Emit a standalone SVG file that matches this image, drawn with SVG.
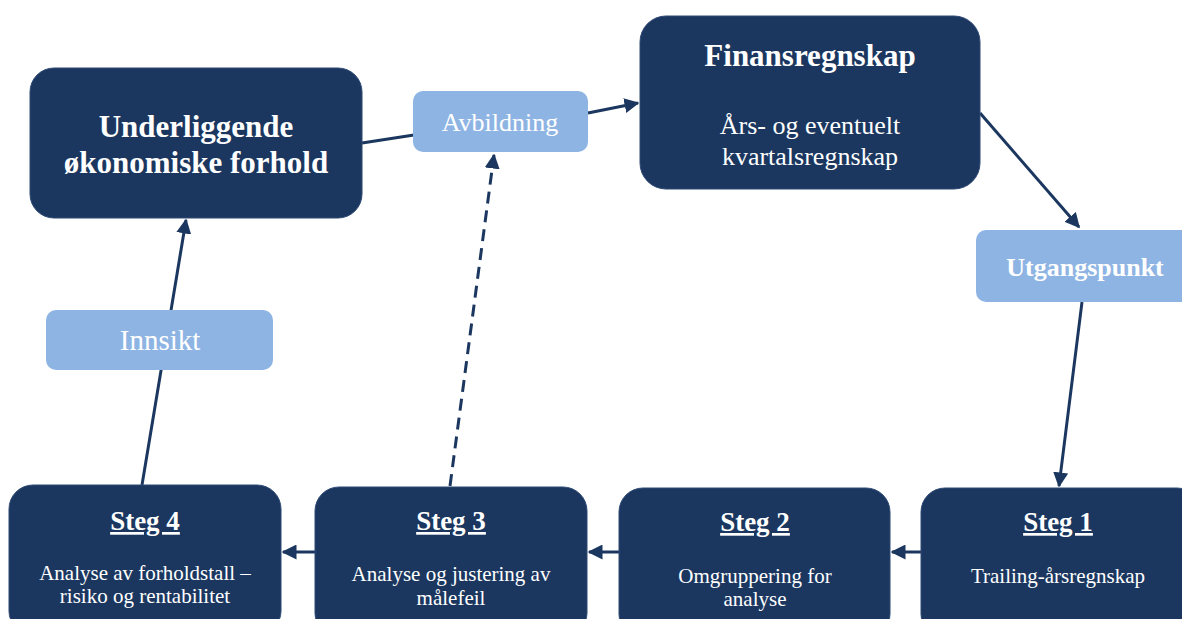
<svg xmlns="http://www.w3.org/2000/svg" width="1182" height="619" viewBox="0 0 1182 619">
  <style>
    .dark { fill: #1B375F; stroke: #2E4A75; stroke-width: 1; }
    .light { fill: #8EB4E3; }
    text { font-family: "Liberation Serif", "Times New Roman", serif; fill: #FFFFFF; text-anchor: middle; }
    .big { font-size: 31px; font-weight: bold; }
    .mid { font-size: 26px; }
    .head { font-size: 27px; font-weight: bold; text-decoration: underline; }
    .small { font-size: 21px; }
    .conn { stroke: #1B375F; stroke-width: 3; fill: none; }
    .dash { stroke-dasharray: 12 7; }
  </style>
  <defs>
    <marker id="arrow" viewBox="0 0 10 10" refX="9" refY="5" markerWidth="5" markerHeight="5" markerUnits="strokeWidth" orient="auto">
      <path d="M0,0 L10,5 L0,10 z" fill="#1B375F"/>
    </marker>
  </defs>

  <!-- connectors -->
  <g id="connectors">
    <line class="conn" x1="362" y1="143" x2="414" y2="135"/>
    <line class="conn" x1="588" y1="113" x2="638" y2="103" marker-end="url(#arrow)"/>
    <line class="conn" x1="980" y1="113" x2="1079" y2="227" marker-end="url(#arrow)"/>
    <line class="conn" x1="1082" y1="302" x2="1059" y2="486" marker-end="url(#arrow)"/>
    <line class="conn" x1="921" y1="552" x2="892" y2="552" marker-end="url(#arrow)"/>
    <line class="conn" x1="619" y1="552" x2="589" y2="552" marker-end="url(#arrow)"/>
    <line class="conn" x1="315" y1="552" x2="283" y2="552" marker-end="url(#arrow)"/>
    <line class="conn" x1="142" y1="485" x2="186" y2="220" marker-end="url(#arrow)"/>
    <line class="conn dash" x1="450" y1="486" x2="494" y2="155" marker-end="url(#arrow)"/>
  </g>

  <g id="underliggende">
    <rect class="dark" x="30" y="68" width="332" height="150" rx="24"/>
    <text class="big" x="196" y="137">Underliggende</text>
    <text class="big" x="196" y="173">økonomiske forhold</text>
  </g>

  <g id="avbildning">
    <rect class="light" x="413" y="91" width="175" height="61" rx="10"/>
    <text class="mid" x="500" y="131">Avbildning</text>
  </g>

  <g id="finansregnskap">
    <rect class="dark" x="640" y="16" width="340" height="173" rx="26"/>
    <text class="big" x="810" y="66">Finansregnskap</text>
    <text class="mid" x="810" y="134">Års- og eventuelt</text>
    <text class="mid" x="810" y="165">kvartalsregnskap</text>
  </g>

  <g id="utgangspunkt">
    <rect class="light" x="976" y="230" width="220" height="72" rx="10"/>
    <text class="mid" x="1085" y="276" font-weight="bold">Utgangspunkt</text>
  </g>

  <g id="innsikt">
    <rect class="light" x="46" y="310" width="227" height="60" rx="10"/>
    <text x="160" y="350" font-size="29">Innsikt</text>
  </g>

  <g id="steg4">
    <rect class="dark" x="9" y="485" width="272" height="150" rx="24"/>
    <text class="head" x="145" y="530">Steg 4</text>
    <text class="small" x="145" y="580">Analyse av forholdstall –</text>
    <text class="small" x="145" y="603">risiko og rentabilitet</text>
  </g>

  <g id="steg3">
    <rect class="dark" x="315" y="487" width="272" height="150" rx="24"/>
    <text class="head" x="451" y="530">Steg 3</text>
    <text class="small" x="451" y="581">Analyse og justering av</text>
    <text class="small" x="451" y="605">målefeil</text>
  </g>

  <g id="steg2">
    <rect class="dark" x="619" y="488" width="271" height="150" rx="24"/>
    <text class="head" x="755" y="531">Steg 2</text>
    <text class="small" x="755" y="583">Omgruppering for</text>
    <text class="small" x="755" y="606">analyse</text>
  </g>

  <g id="steg1">
    <rect class="dark" x="921" y="488" width="280" height="150" rx="24"/>
    <text class="head" x="1058" y="531">Steg 1</text>
    <text class="small" x="1058" y="583">Trailing-årsregnskap</text>
  </g>
</svg>
